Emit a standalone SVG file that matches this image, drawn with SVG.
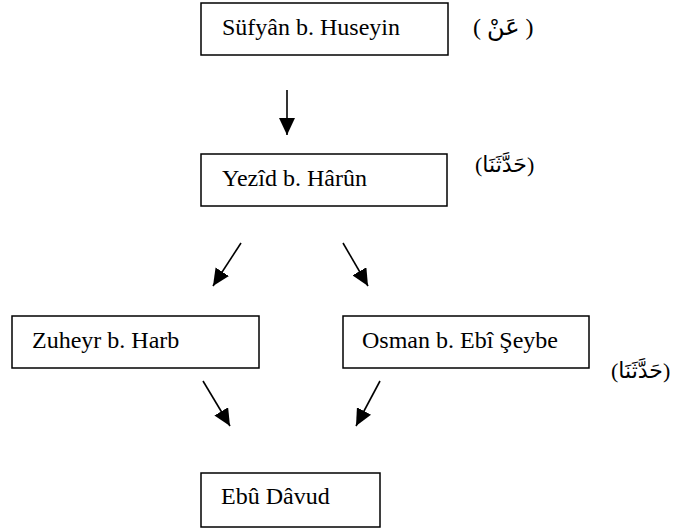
<svg xmlns="http://www.w3.org/2000/svg" width="693" height="531" viewBox="0 0 693 531">
<style>
.box{fill:#fff;stroke:#000;stroke-width:1.5}
.t{font-family:"Liberation Serif","Times New Roman",serif;font-size:24px;fill:#000}
.ar{font-family:"Liberation Serif","DejaVu Sans",serif;font-size:24px;fill:#000;direction:ltr}
.ar2{font-size:22px}
.c{stroke:#000;stroke-width:1.6;fill:none;marker-end:url(#ah)}
</style>
<defs>
<marker id="ah" markerUnits="userSpaceOnUse" markerWidth="18" markerHeight="16" viewBox="0 0 18 16" refX="17" refY="8" orient="auto">
<path d="M0,0 L17,8 L0,16 Z" fill="#000"/>
</marker>
</defs>
<g id="n1"><rect class="box" x="201" y="3" width="247" height="52"/><text class="t" x="222" y="35">Süfyân b. Huseyin</text></g>
<g id="lbl1"><text class="ar" x="473" y="35">( عَنْ )</text></g>
<g id="n2"><rect class="box" x="201" y="154" width="246" height="52"/><text class="t" x="222" y="186">Yezîd b. Hârûn</text></g>
<g id="lbl2"><text class="ar ar2" x="475" y="172">(حَدَّثَنَا)</text></g>
<g id="n3"><rect class="box" x="12" y="316" width="247" height="52"/><text class="t" x="32" y="348">Zuheyr b. Harb</text></g>
<g id="n4"><rect class="box" x="343" y="316" width="246" height="52"/><text class="t" x="362" y="348">Osman b. Ebî Şeybe</text></g>
<g id="lbl3"><text class="ar ar2" x="611" y="378">(حَدَّثَنَا)</text></g>
<g id="n5"><rect class="box" x="201" y="473" width="179" height="54"/><text class="t" x="221" y="504">Ebû Dâvud</text></g>
<g id="connectors">
<line class="c" x1="287" y1="90" x2="287" y2="135"/>
<line class="c" x1="241" y1="243" x2="213" y2="286"/>
<line class="c" x1="343" y1="243" x2="368" y2="286"/>
<line class="c" x1="203" y1="381" x2="230" y2="426"/>
<line class="c" x1="380" y1="381" x2="356" y2="426"/>
</g>
</svg>
